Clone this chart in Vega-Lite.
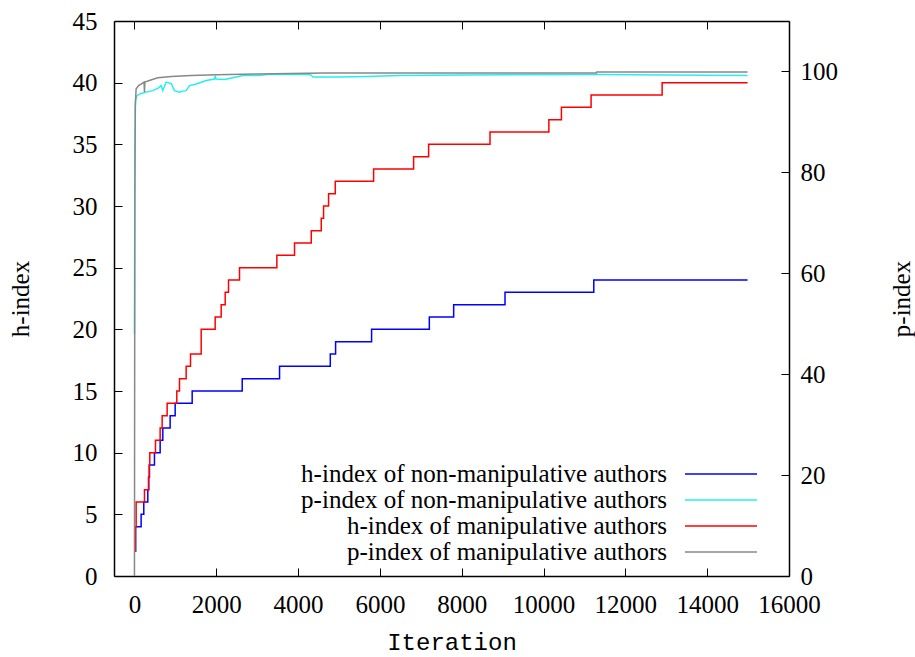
{
  "$schema": "https://vega.github.io/schema/vega-lite/v6.json",
  "width": 675,
  "height": 555,
  "autosize": {"type": "none"},
  "padding": {"left": 114, "top": 21, "right": 126, "bottom": 81},
  "background": "white",
  "config": {
    "view": {"stroke": null},
    "font": "Liberation Serif",
    "axis": {
      "domainColor": "black",
      "domainWidth": 1.5,
      "tickColor": "black",
      "tickWidth": 1,
      "tickSize": -8,
      "grid": false,
      "labelOverlap": false,
      "labelFlush": false,
      "labelFont": "Liberation Serif",
      "labelFontSize": 25,
      "labelColor": "black",
      "titleFont": "Liberation Serif",
      "titleFontSize": 25,
      "titleFontWeight": "normal",
      "titleColor": "black"
    }
  },
  "datasets": {
    "h": [
      {"series": "h-index of non-manipulative authors", "iteration": 0, "value": 2},
      {"series": "h-index of non-manipulative authors", "iteration": 30, "value": 4},
      {"series": "h-index of non-manipulative authors", "iteration": 163, "value": 5},
      {"series": "h-index of non-manipulative authors", "iteration": 228, "value": 6},
      {"series": "h-index of non-manipulative authors", "iteration": 326, "value": 7},
      {"series": "h-index of non-manipulative authors", "iteration": 350, "value": 8},
      {"series": "h-index of non-manipulative authors", "iteration": 367, "value": 9},
      {"series": "h-index of non-manipulative authors", "iteration": 489, "value": 10},
      {"series": "h-index of non-manipulative authors", "iteration": 628, "value": 11},
      {"series": "h-index of non-manipulative authors", "iteration": 693, "value": 12},
      {"series": "h-index of non-manipulative authors", "iteration": 872, "value": 13},
      {"series": "h-index of non-manipulative authors", "iteration": 995, "value": 14},
      {"series": "h-index of non-manipulative authors", "iteration": 1411, "value": 15},
      {"series": "h-index of non-manipulative authors", "iteration": 2634, "value": 16},
      {"series": "h-index of non-manipulative authors", "iteration": 3547, "value": 17},
      {"series": "h-index of non-manipulative authors", "iteration": 4787, "value": 18},
      {"series": "h-index of non-manipulative authors", "iteration": 4917, "value": 19},
      {"series": "h-index of non-manipulative authors", "iteration": 5797, "value": 20},
      {"series": "h-index of non-manipulative authors", "iteration": 7208, "value": 21},
      {"series": "h-index of non-manipulative authors", "iteration": 7803, "value": 22},
      {"series": "h-index of non-manipulative authors", "iteration": 9058, "value": 23},
      {"series": "h-index of non-manipulative authors", "iteration": 11228, "value": 24},
      {"series": "h-index of non-manipulative authors", "iteration": 14987, "value": 24},
      {"series": "h-index of manipulative authors", "iteration": 0, "value": 2},
      {"series": "h-index of manipulative authors", "iteration": 20, "value": 4},
      {"series": "h-index of manipulative authors", "iteration": 41, "value": 6},
      {"series": "h-index of manipulative authors", "iteration": 245, "value": 7},
      {"series": "h-index of manipulative authors", "iteration": 342, "value": 8},
      {"series": "h-index of manipulative authors", "iteration": 360, "value": 9},
      {"series": "h-index of manipulative authors", "iteration": 375, "value": 10},
      {"series": "h-index of manipulative authors", "iteration": 514, "value": 11},
      {"series": "h-index of manipulative authors", "iteration": 628, "value": 12},
      {"series": "h-index of manipulative authors", "iteration": 677, "value": 13},
      {"series": "h-index of manipulative authors", "iteration": 799, "value": 14},
      {"series": "h-index of manipulative authors", "iteration": 1035, "value": 15},
      {"series": "h-index of manipulative authors", "iteration": 1101, "value": 16},
      {"series": "h-index of manipulative authors", "iteration": 1264, "value": 17},
      {"series": "h-index of manipulative authors", "iteration": 1370, "value": 18},
      {"series": "h-index of manipulative authors", "iteration": 1631, "value": 20},
      {"series": "h-index of manipulative authors", "iteration": 1973, "value": 21},
      {"series": "h-index of manipulative authors", "iteration": 2120, "value": 22},
      {"series": "h-index of manipulative authors", "iteration": 2218, "value": 23},
      {"series": "h-index of manipulative authors", "iteration": 2299, "value": 24},
      {"series": "h-index of manipulative authors", "iteration": 2568, "value": 25},
      {"series": "h-index of manipulative authors", "iteration": 3481, "value": 26},
      {"series": "h-index of manipulative authors", "iteration": 3913, "value": 27},
      {"series": "h-index of manipulative authors", "iteration": 4322, "value": 28},
      {"series": "h-index of manipulative authors", "iteration": 4566, "value": 29},
      {"series": "h-index of manipulative authors", "iteration": 4623, "value": 30},
      {"series": "h-index of manipulative authors", "iteration": 4745, "value": 31},
      {"series": "h-index of manipulative authors", "iteration": 4909, "value": 32},
      {"series": "h-index of manipulative authors", "iteration": 5846, "value": 33},
      {"series": "h-index of manipulative authors", "iteration": 6824, "value": 34},
      {"series": "h-index of manipulative authors", "iteration": 7191, "value": 35},
      {"series": "h-index of manipulative authors", "iteration": 8691, "value": 36},
      {"series": "h-index of manipulative authors", "iteration": 10130, "value": 37},
      {"series": "h-index of manipulative authors", "iteration": 10437, "value": 38},
      {"series": "h-index of manipulative authors", "iteration": 11162, "value": 39},
      {"series": "h-index of manipulative authors", "iteration": 12899, "value": 40},
      {"series": "h-index of manipulative authors", "iteration": 14987, "value": 40}
    ],
    "p": [
      {"series": "p-index of non-manipulative authors", "iteration": 0, "value": 48},
      {"series": "p-index of non-manipulative authors", "iteration": 10, "value": 84},
      {"series": "p-index of non-manipulative authors", "iteration": 25, "value": 94.3},
      {"series": "p-index of non-manipulative authors", "iteration": 60, "value": 95.2},
      {"series": "p-index of non-manipulative authors", "iteration": 150, "value": 95.6},
      {"series": "p-index of non-manipulative authors", "iteration": 286, "value": 95.9},
      {"series": "p-index of non-manipulative authors", "iteration": 448, "value": 96.2},
      {"series": "p-index of non-manipulative authors", "iteration": 600, "value": 96.8},
      {"series": "p-index of non-manipulative authors", "iteration": 653, "value": 97.2},
      {"series": "p-index of non-manipulative authors", "iteration": 693, "value": 96.2},
      {"series": "p-index of non-manipulative authors", "iteration": 775, "value": 97.9},
      {"series": "p-index of non-manipulative authors", "iteration": 900, "value": 97.6},
      {"series": "p-index of non-manipulative authors", "iteration": 978, "value": 96.2},
      {"series": "p-index of non-manipulative authors", "iteration": 1101, "value": 95.9},
      {"series": "p-index of non-manipulative authors", "iteration": 1182, "value": 96.1},
      {"series": "p-index of non-manipulative authors", "iteration": 1264, "value": 96.2},
      {"series": "p-index of non-manipulative authors", "iteration": 1345, "value": 97.2},
      {"series": "p-index of non-manipulative authors", "iteration": 1509, "value": 97.5},
      {"series": "p-index of non-manipulative authors", "iteration": 1753, "value": 98.2},
      {"series": "p-index of non-manipulative authors", "iteration": 1957, "value": 98.5},
      {"series": "p-index of non-manipulative authors", "iteration": 1975, "value": 99.1},
      {"series": "p-index of non-manipulative authors", "iteration": 1995, "value": 98.5},
      {"series": "p-index of non-manipulative authors", "iteration": 2201, "value": 98.4},
      {"series": "p-index of non-manipulative authors", "iteration": 2487, "value": 98.9},
      {"series": "p-index of non-manipulative authors", "iteration": 2650, "value": 99.2},
      {"series": "p-index of non-manipulative authors", "iteration": 3016, "value": 99.2},
      {"series": "p-index of non-manipulative authors", "iteration": 3261, "value": 99.4},
      {"series": "p-index of non-manipulative authors", "iteration": 4232, "value": 99.4},
      {"series": "p-index of non-manipulative authors", "iteration": 4300, "value": 99.4},
      {"series": "p-index of non-manipulative authors", "iteration": 4362, "value": 98.9},
      {"series": "p-index of non-manipulative authors", "iteration": 5000, "value": 98.9},
      {"series": "p-index of non-manipulative authors", "iteration": 5667, "value": 99.0},
      {"series": "p-index of non-manipulative authors", "iteration": 6482, "value": 99.2},
      {"series": "p-index of non-manipulative authors", "iteration": 8000, "value": 99.3},
      {"series": "p-index of non-manipulative authors", "iteration": 11300, "value": 99.4},
      {"series": "p-index of non-manipulative authors", "iteration": 13000, "value": 99.3},
      {"series": "p-index of non-manipulative authors", "iteration": 14987, "value": 99.2},
      {"series": "p-index of manipulative authors", "iteration": 0, "value": 0},
      {"series": "p-index of manipulative authors", "iteration": 5, "value": 40},
      {"series": "p-index of manipulative authors", "iteration": 10, "value": 75},
      {"series": "p-index of manipulative authors", "iteration": 20, "value": 93},
      {"series": "p-index of manipulative authors", "iteration": 40, "value": 96.5},
      {"series": "p-index of manipulative authors", "iteration": 100, "value": 97.2},
      {"series": "p-index of manipulative authors", "iteration": 200, "value": 97.7},
      {"series": "p-index of manipulative authors", "iteration": 235, "value": 97.9},
      {"series": "p-index of manipulative authors", "iteration": 245, "value": 95.9},
      {"series": "p-index of manipulative authors", "iteration": 255, "value": 97.9},
      {"series": "p-index of manipulative authors", "iteration": 400, "value": 98.3},
      {"series": "p-index of manipulative authors", "iteration": 571, "value": 98.75},
      {"series": "p-index of manipulative authors", "iteration": 900, "value": 99.0},
      {"series": "p-index of manipulative authors", "iteration": 1386, "value": 99.2},
      {"series": "p-index of manipulative authors", "iteration": 2000, "value": 99.35},
      {"series": "p-index of manipulative authors", "iteration": 3012, "value": 99.5},
      {"series": "p-index of manipulative authors", "iteration": 4647, "value": 99.7},
      {"series": "p-index of manipulative authors", "iteration": 8000, "value": 99.7},
      {"series": "p-index of manipulative authors", "iteration": 11293, "value": 99.7},
      {"series": "p-index of manipulative authors", "iteration": 11300, "value": 99.9},
      {"series": "p-index of manipulative authors", "iteration": 14987, "value": 99.9}
    ]
  },
  "layer": [
    {
      "data": {"name": "h"},
      "mark": {"type": "line", "interpolate": "step-after", "strokeWidth": 1.5},
      "encoding": {
        "x": {
          "field": "iteration",
          "type": "quantitative",
          "scale": {"domain": [-500, 16000], "nice": false, "zero": false},
          "axis": {
            "orient": "bottom",
            "values": [0, 2000, 4000, 6000, 8000, 10000, 12000, 14000, 16000],
            "format": "d",
            "labelPadding": 24,
            "title": "Iteration",
            "titleFont": "Liberation Mono",
            "titleFontSize": 24,
            "titlePadding": 13
          }
        },
        "y": {
          "field": "value",
          "type": "quantitative",
          "scale": {"domain": [0, 45], "nice": false, "zero": true},
          "axis": {
            "orient": "left",
            "values": [0, 5, 10, 15, 20, 25, 30, 35, 40, 45],
            "labelPadding": 25,
            "title": "h-index",
            "titleAngle": 270,
            "titlePadding": 39
          }
        },
        "color": {
          "field": "series",
          "type": "nominal",
          "scale": {
            "domain": [
              "h-index of non-manipulative authors",
              "p-index of non-manipulative authors",
              "h-index of manipulative authors",
              "p-index of manipulative authors"
            ],
            "range": ["#0000ff", "#22f0f0", "#ff0000", "#888888"]
          },
          "legend": {
            "orient": "none",
            "legendX": 594,
            "legendY": 440,
            "title": null,
            "direction": "vertical",
            "padding": 0,
            "rowPadding": 0,
            "symbolType": "M-3,0H3",
            "symbolSize": 576,
            "symbolStrokeWidth": 1.5,
            "labelFont": "Liberation Serif",
            "labelFontSize": 25,
            "labelColor": "black",
            "labelLimit": 600,
            "labelAlign": "right",
            "encode": {"labels": {"update": {"x": {"value": -41}}}}
          }
        }
      }
    },
    {
      "data": {"name": "p"},
      "mark": {"type": "line", "strokeWidth": 1.5},
      "encoding": {
        "x": {
          "field": "iteration",
          "type": "quantitative",
          "axis": {
            "orient": "top",
            "values": [0, 2000, 4000, 6000, 8000, 10000, 12000, 14000, 16000],
            "labels": false,
            "title": null
          }
        },
        "y": {
          "field": "value",
          "type": "quantitative",
          "scale": {"domain": [0, 110], "nice": false, "zero": true},
          "axis": {
            "orient": "right",
            "values": [0, 20, 40, 60, 80, 100],
            "labelPadding": 19,
            "title": "p-index",
            "titleAngle": 270,
            "titlePadding": 77
          }
        },
        "color": {"field": "series", "type": "nominal"}
      }
    }
  ],
  "resolve": {"scale": {"y": "independent"}, "axis": {"x": "independent"}}
}
